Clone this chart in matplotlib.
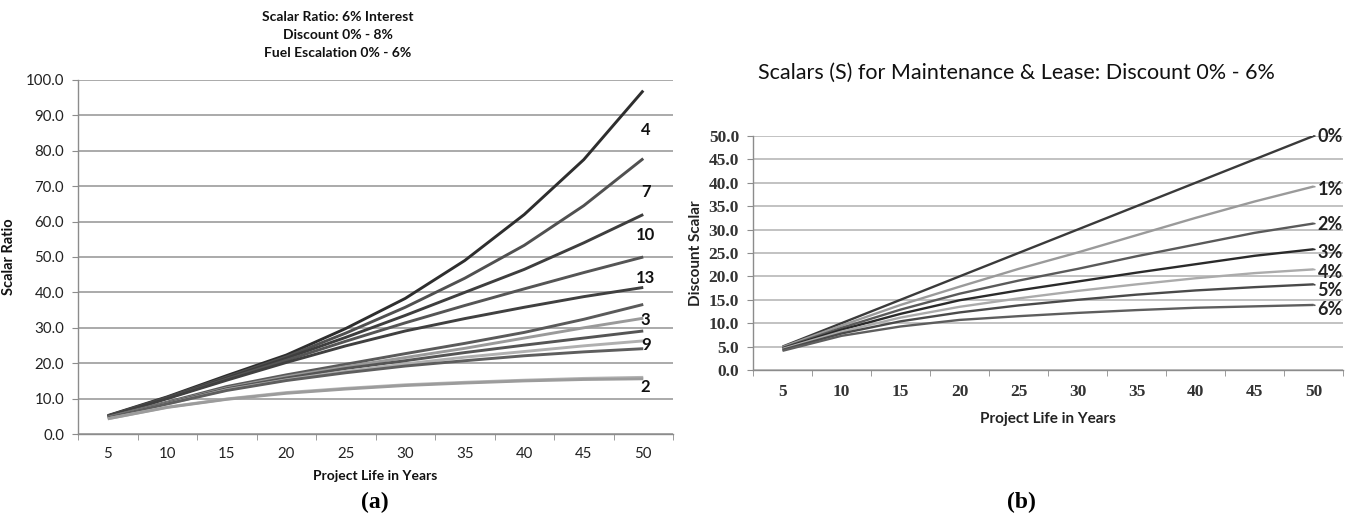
import matplotlib
matplotlib.use("Agg")
import matplotlib.pyplot as plt
import numpy as np

# ---------------- data ----------------
years = [5, 10, 15, 20, 25, 30, 35, 40, 45, 50]

# (a) Scalar ratio series (top to bottom at year 50)
ratio_series = [
    [5.2, 10.5, 16.5, 22.3, 29.8, 38.3, 49.0, 62.0, 77.5, 97.0],
    [5.1, 10.3, 16.1, 21.8, 28.5, 35.8, 44.0, 53.3, 64.5, 77.8],
    [5.0, 10.2, 15.8, 21.4, 27.3, 33.5, 40.0, 46.5, 54.0, 62.0],
    [5.0, 10.1, 15.5, 20.8, 26.2, 31.4, 36.3, 41.0, 45.6, 50.0],
    [5.0, 10.0, 15.2, 20.2, 24.9, 29.1, 32.6, 35.8, 38.8, 41.4],
    [4.8, 9.0, 13.4, 16.7, 19.7, 22.7, 25.6, 28.7, 32.4, 36.6],
    [4.7, 8.8, 13.0, 16.2, 19.0, 21.6, 24.2, 27.1, 30.0, 32.7],
    [4.7, 8.7, 12.8, 15.8, 18.5, 20.7, 23.0, 25.1, 27.1, 29.1],
    [4.6, 8.5, 12.5, 15.3, 17.7, 19.8, 21.7, 23.3, 24.9, 26.3],
    [4.6, 8.5, 12.3, 15.1, 17.3, 19.2, 20.7, 22.1, 23.2, 24.1],
    [4.3, 7.6, 9.9, 11.7, 12.9, 13.9, 14.6, 15.2, 15.7, 16.0],
    [4.3, 7.5, 9.8, 11.5, 12.7, 13.7, 14.4, 15.0, 15.4, 15.6],
]
ratio_colors = ["#2e2e2e", "#505050", "#3e3e3e", "#555555", "#404040", "#5a5a5a",
                "#9a9a9a", "#555555", "#b0b0b0", "#5e5e5e", "#b4b4b4", "#9c9c9c"]
ratio_labels = ["4", "7", "10", "13", "3", "9", "2"]
ratio_label_y = [86, 68.4, 56.2, 44.1, 32.2, 25.1, 13.3]
ratio_title = ["Scalar Ratio: 6% Interest", "Discount 0% - 8%", "Fuel Escalation 0% - 6%"]

# (b) Discount scalar series
disc_series = [
    [5.0, 10.0, 15.0, 20.0, 25.0, 30.0, 35.0, 40.0, 45.0, 50.0],
    [4.9, 9.5, 13.9, 17.8, 21.6, 25.1, 28.8, 32.5, 36.0, 39.2],
    [4.7, 9.0, 12.9, 16.3, 19.1, 21.6, 24.3, 26.8, 29.3, 31.3],
    [4.6, 8.6, 12.0, 14.9, 17.0, 18.9, 20.8, 22.6, 24.4, 25.8],
    [4.5, 8.2, 11.2, 13.5, 15.3, 16.9, 18.3, 19.6, 20.7, 21.5],
    [4.3, 7.8, 10.4, 12.3, 13.8, 15.0, 16.1, 17.0, 17.7, 18.3],
    [4.1, 7.3, 9.3, 10.7, 11.5, 12.2, 12.8, 13.3, 13.6, 13.9],
]
disc_colors = ["#3a3a3a", "#9a9a9a", "#5a5a5a", "#2a2a2a", "#ababab", "#4a4a4a", "#5e5e5e"]
disc_labels = ["0%", "1%", "2%", "3%", "4%", "5%", "6%"]
disc_label_y = [49.8, 38.6, 31.0, 25.2, 20.8, 16.9, 12.9]
disc_title = "Scalars (S) for Maintenance & Lease: Discount 0% - 6%"

# ---------------- figure ----------------
W, H = 1349, 515
fig = plt.figure(figsize=(W / 100, H / 100), dpi=100)

sans = ["Lato", "DejaVu Sans"]
serif = ["Liberation Serif", "DejaVu Serif"]
axis_c = "#8c8c8c"


def style_axes(ax, ymax, ystep, tickfont, tickweight, ticksize, grid_c, tickcolor, xpad):
    ax.set_xlim(2.5, 52.5)
    ax.set_ylim(0, ymax)
    for s in ["top", "right"]:
        ax.spines[s].set_visible(False)
    ax.spines["left"].set_color(axis_c)
    ax.spines["bottom"].set_color(axis_c)
    ax.spines["left"].set_linewidth(1.0)
    ax.spines["bottom"].set_linewidth(1.0)
    yt = np.arange(0, ymax + 0.1, ystep)
    ax.set_yticks(yt)
    ax.set_yticklabels([f"{v:.1f}" for v in yt], family=tickfont, fontweight=tickweight,
                       fontsize=ticksize, color=tickcolor)
    ax.set_xticks(years)
    ax.set_xticklabels([str(y) for y in years], family=tickfont, fontweight=tickweight,
                       fontsize=ticksize, color=tickcolor)
    ax.set_xticks(np.arange(2.5, 53, 5), minor=True)
    ax.tick_params(axis="x", which="major", length=0, pad=xpad)
    ax.tick_params(axis="x", which="minor", length=4, color=axis_c, direction="out")
    ax.tick_params(axis="y", which="major", length=4, color=axis_c, direction="out", pad=6)
    ax.yaxis.grid(True, color=grid_c, linewidth=1.3)
    ax.set_axisbelow(True)


# ---- (a) ----
axA = fig.add_axes([78 / W, 1 - 434 / H, 595 / W, 354 / H])
style_axes(axA, 100, 10, sans, "normal", 10.8, "#a4a4a4", "#222222", 9)
for ys, c in zip(ratio_series, ratio_colors):
    axA.plot(years, ys, color=c, linewidth=2.1, solid_capstyle="butt")
for lab, ly in zip(ratio_labels, ratio_label_y):
    axA.text(50.2, ly, lab, ha="center", va="center", fontsize=12, fontweight="bold",
             family=sans, color="#111111")
for i, line in enumerate(ratio_title):
    fig.text(338 / W, 1 - (17 + 18 * i) / H, line, ha="center", va="center",
             fontsize=10, fontweight="bold", family=sans, color="#111111")
axA.set_xlabel("Project Life in Years", fontsize=10, fontweight="bold", family=sans,
               labelpad=7, color="#111111")
axA.set_ylabel("Scalar Ratio", fontsize=10.5, fontweight="bold", family=sans,
               labelpad=7, color="#111111")

# ---- (b) ----
axB = fig.add_axes([753 / W, 1 - 370 / H, 590 / W, 234 / H])
style_axes(axB, 50, 5, serif, "bold", 12.5, "#bdbdbd", "#333333", 10)
for ys, c in zip(disc_series, disc_colors):
    axB.plot(years, ys, color=c, linewidth=1.7, solid_capstyle="butt")
for lab, ly, ys, c in zip(disc_labels, disc_label_y, disc_series, disc_colors):
    axB.annotate(lab, xy=(years[-1], ys[-1]), xytext=(50.35, ly),
                 ha="left", va="center", fontsize=13, fontweight="bold", family=sans,
                 color="#222222",
                 arrowprops=dict(arrowstyle="-", color=c, lw=1.2, shrinkA=0, shrinkB=0))
fig.text(1016 / W, 1 - 73 / H, disc_title, ha="center", va="center",
         fontsize=15.5, family=sans, color="#111111")
axB.set_xlabel("Project Life in Years", fontsize=11, fontweight="bold", family=sans,
               labelpad=9, color="#222222")
axB.set_ylabel("Discount Scalar", fontsize=11, fontweight="bold", family=sans,
               labelpad=4, color="#222222")

# panel captions
fig.text(375 / W, 1 - 502 / H, "(a)", ha="center", va="center", fontsize=17,
         fontweight="bold", family=serif)
fig.text(1021 / W, 1 - 502 / H, "(b)", ha="center", va="center", fontsize=17,
         fontweight="bold", family=serif)

fig.savefig("out.png", dpi=100)
